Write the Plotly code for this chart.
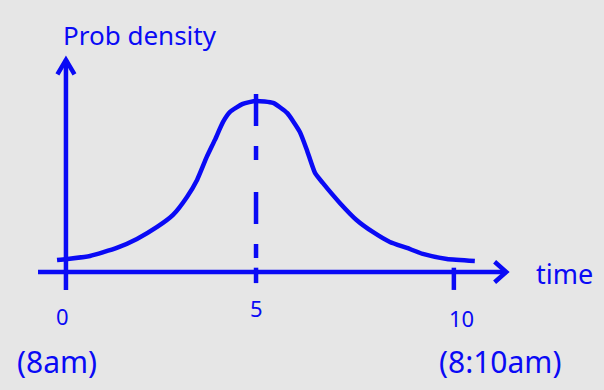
import plotly.graph_objects as go

# hand-read curve of the density sketch (time in minutes after 8am)
time = [-0.23, 0.03, 0.62, 1.31, 1.83, 2.35, 2.76, 3.12, 3.38, 3.63, 3.84, 4.05,
        4.23, 4.56, 4.90, 5.34, 5.70, 6.03, 6.21, 6.42, 6.62, 7.06, 7.49, 7.91,
        8.35, 8.79, 9.20, 9.82, 10.54]
density = [0.014, 0.0152, 0.0187, 0.0281, 0.0386, 0.0526, 0.0667, 0.0877, 0.1076,
           0.1345, 0.1544, 0.1754, 0.1871, 0.1965, 0.200, 0.1977, 0.186, 0.1637,
           0.1427, 0.1158, 0.1041, 0.0807, 0.0608, 0.0468, 0.0351, 0.0281, 0.0211,
           0.0152, 0.0129]

tick_vals = [0, 5, 10]
tick_text = ["0", "5", "10"]
time_labels = ["(8am)", "(8:10am)"]
mean_time = 4.9

BLUE = "#0a0af5"
BG = "#e6e6e6"
FONT = "Noto Sans"

x_axis = (-0.72, 11.35)
y_axis = (-0.021, 0.248)

fig = go.Figure()


def stroke(x, y, **kw):
    fig.add_trace(go.Scatter(x=x, y=y, mode="lines", hoverinfo="skip",
                             line=dict(color=BLUE, width=4.5, **kw)))


# curve
stroke(time, density, shape="spline", smoothing=0.5)

# axes
stroke(list(x_axis), [0, 0])
stroke([0, 0], list(y_axis))

# arrow heads
ax, ay = 0.3, 0.012
stroke([x_axis[1] - ax, x_axis[1], x_axis[1] - ax], [ay, 0, -ay])
stroke([-0.22, 0, 0.22], [y_axis[1] - 0.017, y_axis[1], y_axis[1] - 0.017])

# ticks (hand-drawn, so 5 sits a little left)
stroke([mean_time, mean_time], [0.005, -0.013])
stroke([10, 10], [0.005, -0.021])

# dashed line at the mean
stroke([mean_time, mean_time], [0.208, 0.0], dash="32px,20px,14px,32px")

ann = []
for t, s, dx, y in zip(tick_vals, tick_text, [-0.1, -0.1, 0.2], [-0.0515, -0.042, -0.054]):
    ann.append(dict(x=t + dx, y=y, text=s, showarrow=False,
                    font=dict(family=FONT, size=22, color=BLUE)))
for x, s in zip([-0.23, 11.2], time_labels):
    ann.append(dict(x=x, y=-0.105, text=s, showarrow=False,
                    font=dict(family=FONT, size=30, color=BLUE)))
ann.append(dict(x=1.91, y=0.277, text="Prob density", showarrow=False,
                font=dict(family=FONT, size=26, color=BLUE)))
ann.append(dict(x=12.86, y=-0.002, text="time", showarrow=False,
                font=dict(family=FONT, size=27, color=BLUE)))

fig.update_layout(
    width=604, height=390,
    margin=dict(l=0, r=0, t=0, b=0),
    paper_bgcolor=BG, plot_bgcolor=BG,
    showlegend=False,
    xaxis=dict(range=[-1.70, 13.87], visible=False, fixedrange=True),
    yaxis=dict(range=[-0.138, 0.318], visible=False, fixedrange=True),
    annotations=ann,
)

fig.write_html("out.html", config={"displayModeBar": False},
               post_script="document.body.style.margin='0';document.body.style.background='%s';" % BG)
